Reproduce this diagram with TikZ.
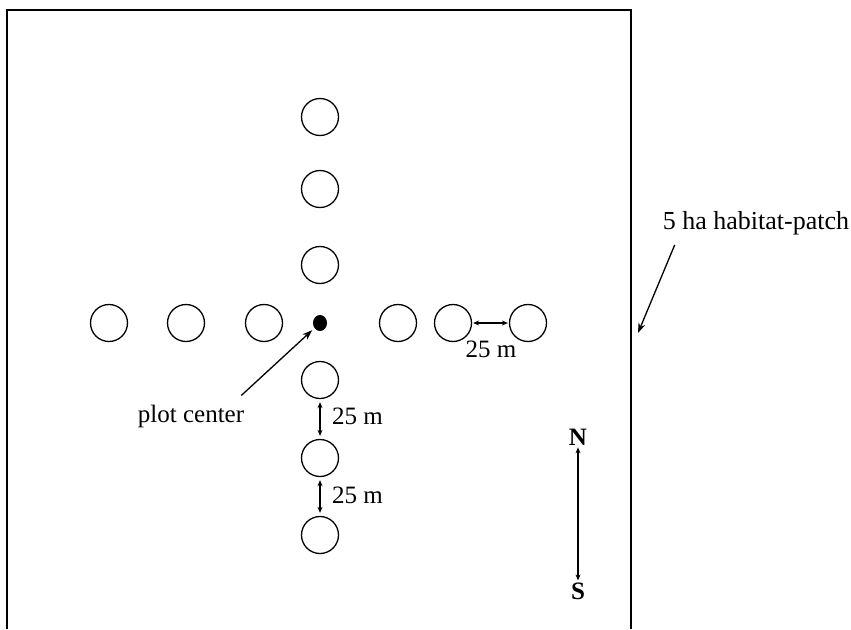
\documentclass[tikz,border=0pt]{standalone}
\usepackage{fontspec}
\setmainfont{Liberation Serif}
\usetikzlibrary{arrows.meta,shapes.geometric}
\begin{document}
\begin{tikzpicture}[x=1pt,y=-1pt,
  plot/.style={draw,circle,minimum size=37pt,inner sep=0pt,line width=1.3pt},
  ctr/.style={fill,ellipse,minimum width=14pt,minimum height=16pt,inner sep=0pt},
  lbl/.style={font=\fontsize{25}{28}\selectfont,inner sep=2pt},
  dim/.style={{Stealth[length=6pt,width=5pt]}-{Stealth[length=6pt,width=5pt]},line width=1.1pt},
  ptr/.style={-{Stealth[length=10pt,width=7pt]},line width=1.3pt}]
\useasboundingbox (0,0) rectangle (851,629);
% habitat patch boundary (bottom edge runs off the page)
\draw[line width=1.3pt] (7,629) -- (7,10) -- (631,10) -- (631,629);
% centre of the plot
\node[ctr] (dot) at (320,323) {};
% north arm
\node[plot] (n1) at (320,265) {};
\node[plot] (n2) at (320,189) {};
\node[plot] (n3) at (320,117) {};
% south arm
\node[plot] (s1) at (320,380) {};
\node[plot] (s2) at (320,458) {};
\node[plot] (s3) at (320,535) {};
% west arm
\node[plot] (w1) at (264,323) {};
\node[plot] (w2) at (186,323) {};
\node[plot] (w3) at (109,323) {};
% east arm
\node[plot] (e1) at (398,323) {};
\node[plot] (e2) at (453,323) {};
\node[plot] (e3) at (528,323) {};
% spacing between plots
\draw[dim,shorten <=1pt,shorten >=1pt] (e2) -- (e3);
\node[lbl] (d1) at (491,349) {25 m};
\draw[dim,shorten <=3pt,shorten >=3pt] (s1) -- (s2);
\node[lbl,anchor=west] (d2) at (330,416) {25 m};
\draw[dim,shorten <=3pt,shorten >=3pt] (s2) -- (s3);
\node[lbl,anchor=west] (d3) at (330,495) {25 m};
% plot centre label
\node[lbl] (pc) at (191,416) {plot center};
\draw[ptr,shorten >=3pt] ([xshift=-5pt,yshift=7pt]pc.north east) -- (dot);
% patch label
\node[lbl,font=\fontsize{26}{28}\selectfont] (hab) at (756,223) {5 ha habitat-patch};
\coordinate (edge) at (638,333);
\draw[ptr] ([xshift=14pt,yshift=-8pt]hab.south west) -- (edge);
% compass
\node[lbl,font=\fontsize{25}{28}\selectfont\bfseries] (N) at (578,437) {N};
\node[lbl,font=\fontsize{25}{28}\selectfont\bfseries] (S) at (578,591) {S};
\draw[dim] (N) -- (S);
\end{tikzpicture}
\end{document}
